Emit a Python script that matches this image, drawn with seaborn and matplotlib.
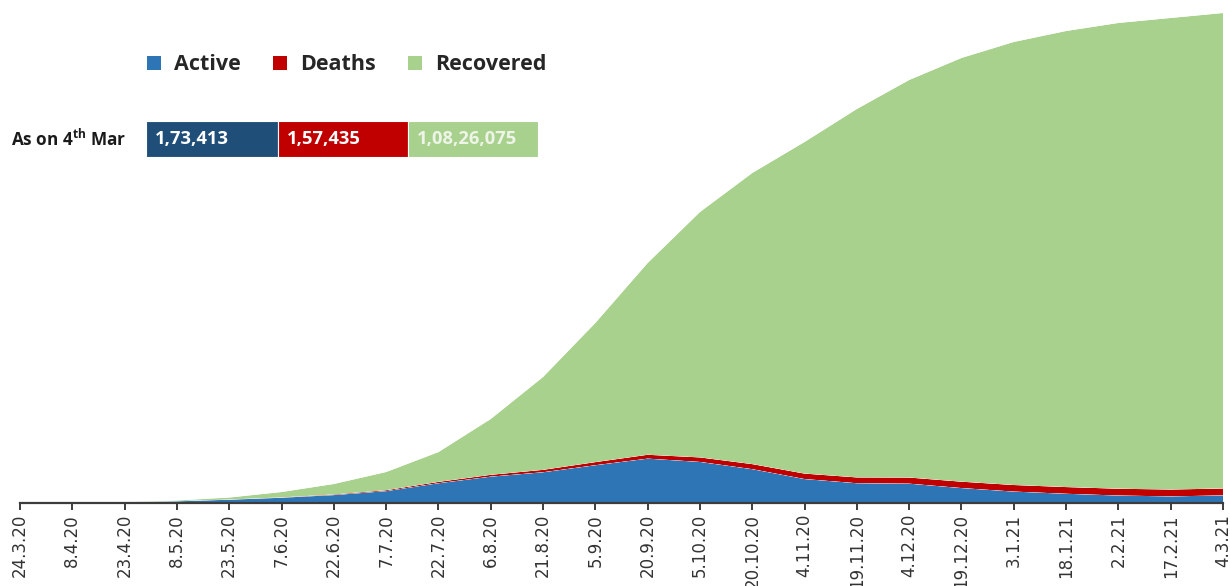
import numpy as np
import pandas as pd
import matplotlib
matplotlib.use("Agg")
import matplotlib.pyplot as plt
from matplotlib.patches import Patch, Rectangle
import seaborn as sns
import seaborn.objects as so

# ---------------- data (values in thousands) ----------------
date_labels = ['24.3.20', '8.4.20', '23.4.20', '8.5.20', '23.5.20', '7.6.20', '22.6.20',
               '7.7.20', '22.7.20', '6.8.20', '21.8.20', '5.9.20', '20.9.20', '5.10.20',
               '20.10.20', '4.11.20', '19.11.20', '4.12.20', '19.12.20', '3.1.21',
               '18.1.21', '2.2.21', '17.2.21', '4.3.21']
active = [0.5, 5, 17, 38, 75, 120, 180, 270, 450, 600, 700, 860, 1010, 935,
          770, 545, 450, 440, 340, 260, 210, 170, 150, 173]
deaths = [0.01, 0.17, 0.68, 1.9, 3.9, 7.0, 14.0, 20.6, 30.6, 41.6, 54.8, 70.6, 87.9, 102.7,
          115.2, 124.3, 132.2, 139.7, 145.1, 149.4, 152.7, 154.8, 156.4, 157.4]
recovered = [0.04, 0.8, 4.3, 17, 46, 123, 239, 415, 679, 1271, 2114, 3169, 4367, 5588,
             6629, 7551, 8389, 9052, 9648, 10088, 10384, 10605, 10737, 10826]

categories = ['Active', 'Deaths', 'Recovered']
area_colors = {'Active': '#2E75B6', 'Deaths': '#C00000', 'Recovered': '#A9D18E'}
box_colors = ['#1F4E79', '#C00000', '#A9D18E']
box_text_colors = ['white', 'white', '#EEF5E8']
box_values = ['1,73,413', '1,57,435', '1,08,26,075']
row_label = 'As on 4$^{\\mathrm{th}}$ Mar'

# ---------------- build long data ----------------
dates = pd.to_datetime(date_labels, format='%d.%m.%y')
days = (dates - dates[0]).days.values
series = {'Active': active, 'Deaths': deaths, 'Recovered': recovered}
df = pd.concat([pd.DataFrame({'day': days, 'value': series[c], 'status': c}) for c in categories],
               ignore_index=True)

# ---------------- figure ----------------
sns.set_theme(style='white')
plt.rcParams['font.family'] = ['Open Sans', 'DejaVu Sans']
plt.rcParams['mathtext.fontset'] = 'custom'
plt.rcParams['mathtext.rm'] = 'Open Sans:bold'
plt.rcParams['mathtext.bf'] = 'Open Sans:bold'

W, H = 1230, 586
fig = plt.figure(figsize=(W / 100, H / 100), dpi=100)
fig.patch.set_facecolor('white')
ax = fig.add_axes([20 / W, 1 - 503 / H, (1223 - 20) / W, 503 / H])

p = (so.Plot(df, x='day', y='value', color='status')
     .add(so.Area(alpha=1, edgewidth=0), so.Stack(), legend=False)
     .scale(color=so.Nominal(values=area_colors, order=categories))
     .theme({'axes.facecolor': 'white', 'axes.grid': False})
     .on(ax))
p.plot()

total_max = active[-1] + deaths[-1] + recovered[-1]
ax.set_xlim(days[0], days[-1])
ax.set_ylim(0, total_max * 503 / 490)
ax.set_facecolor('white')
ax.grid(False)
for s in ['top', 'right', 'left']:
    ax.spines[s].set_visible(False)
ax.spines['bottom'].set_visible(True)
ax.spines['bottom'].set_color('#3c3c3c')
ax.spines['bottom'].set_linewidth(1.6)
ax.set_yticks([])
ax.set_xticks(days)
ax.set_xticklabels(date_labels, rotation=90, fontsize=12, color='#333333',
                   family=['DejaVu Sans'])
ax.tick_params(axis='x', direction='out', length=5, width=1.4, color='#3c3c3c', pad=3,
               bottom=True)
ax.set_xlabel('')
ax.set_ylabel('')

# ---------------- legend ----------------
handles = [Patch(facecolor=area_colors[c], edgecolor='none', label=c) for c in categories]
fig.legend(handles=handles, loc='center left', bbox_to_anchor=(147 / W, 1 - 65 / H),
           ncol=3, frameon=False, handlelength=0.65, handleheight=0.65,
           handletextpad=0.6, columnspacing=1.5, borderpad=0, borderaxespad=0,
           prop={'family': 'Open Sans', 'weight': 'bold', 'size': 15.5})

# ---------------- "As on" table ----------------
fig.text(11 / W, 1 - 139 / H, row_label, ha='left', va='center', fontsize=12.3,
         fontweight='bold', color='#1a1a1a')
x0 = 146
widths = [132, 130, 130]
for col, val, tcol, w in zip(box_colors, box_values, box_text_colors, widths):
    fig.patches.append(Rectangle((x0 / W, 1 - 157 / H), w / W, 36 / H,
                                 transform=fig.transFigure, facecolor=col,
                                 edgecolor='white', linewidth=0.8, zorder=5))
    fig.text((x0 + 9) / W, 1 - 139 / H, val, ha='left', va='center', fontsize=13.2,
             fontweight='bold', color=tcol, zorder=6)
    x0 += w

fig.savefig('out.png', dpi=100, facecolor='white')
